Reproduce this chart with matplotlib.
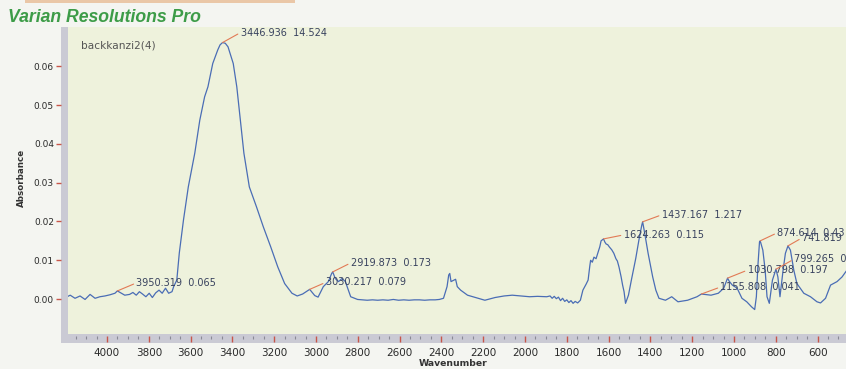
import numpy as np
import matplotlib
matplotlib.use("Agg")
import matplotlib.pyplot as plt
from matplotlib.patches import Rectangle
from matplotlib.ticker import MultipleLocator, FormatStrFormatter

# IR absorbance spectrum of sample backkanzi2(4)
wavenumber = [
    4191, 4176, 4153, 4129, 4105, 4081, 4057, 4034, 4010, 3986, 3962, 3950.319,
    3931, 3915, 3892, 3876, 3860, 3845, 3830, 3814, 3798, 3783, 3767, 3751,
    3736, 3720, 3705, 3689, 3681, 3666, 3654, 3634, 3611, 3580, 3556, 3533,
    3517, 3494, 3470, 3459, 3446.936, 3434, 3421, 3396, 3379, 3362, 3345, 3319,
    3285, 3252, 3217, 3183, 3150, 3115, 3090, 3064, 3030.217, 3006, 2990, 2965,
    2941, 2925, 2919.873, 2908, 2892, 2876, 2859, 2851, 2834, 2801, 2780, 2755,
    2730, 2705, 2680, 2655, 2630, 2605, 2580, 2555, 2530, 2505, 2480, 2455,
    2430, 2410, 2390, 2373, 2365, 2360, 2354, 2340, 2332, 2324, 2308, 2275,
    2225, 2192, 2143, 2100, 2061, 2020, 1978, 1940, 1896, 1880, 1870, 1860,
    1850, 1840, 1830, 1820, 1810, 1800, 1790, 1780, 1770, 1760, 1748, 1735,
    1723, 1707, 1698, 1690, 1686, 1678, 1670, 1660, 1652, 1642, 1636, 1624.263,
    1618, 1612, 1604, 1596, 1585, 1575, 1565, 1558, 1550, 1545, 1540, 1533,
    1526, 1519, 1505, 1491, 1470, 1455, 1441, 1437.167, 1427, 1411, 1389, 1374,
    1359, 1328, 1298, 1268, 1222, 1177, 1155.808, 1110, 1075, 1049, 1030.798, 1023,
    1008, 985, 962, 939, 916, 901, 893, 886, 878, 874.614, 862, 851,
    842, 831, 816, 799.265, 790, 780, 765, 754, 741.819, 730, 714, 699,
    666, 634, 603, 586, 562, 538, 507, 483, 459, 446,
]
absorbance = [
    0.0006, 0.0010, 0.0002, 0.0008, -0.0001, 0.0012, 0.0002, 0.0006, 0.0008, 0.0011, 0.0015, 0.0021,
    0.0015, 0.0010, 0.0012, 0.0017, 0.0010, 0.0019, 0.0013, 0.0006, 0.0015, 0.0004, 0.0016, 0.0023,
    0.0015, 0.0028, 0.0015, 0.0019, 0.0032, 0.0049, 0.0119, 0.0204, 0.0289, 0.0376, 0.0461, 0.0521,
    0.0547, 0.0607, 0.0642, 0.0655, 0.0661, 0.0659, 0.0650, 0.0607, 0.0547, 0.0461, 0.0376, 0.0289,
    0.0238, 0.0186, 0.0135, 0.0083, 0.0040, 0.0015, 0.0008, 0.0013, 0.0025, 0.0009, 0.0005, 0.0032,
    0.0045, 0.0066, 0.0070, 0.0053, 0.0045, 0.0053, 0.0045, 0.0032, 0.0006, -0.0001, -0.0002, -0.0003,
    -0.0002, -0.0003, -0.0002, -0.0003, -0.0001, -0.0003, -0.0002, -0.0003, -0.0002, -0.0002, -0.0003, -0.0002,
    -0.0002, -0.0001, 0.0002, 0.0032, 0.0062, 0.0066, 0.0045, 0.0049, 0.0051, 0.0032, 0.0023, 0.0010,
    0.0002, -0.0003, 0.0004, 0.0008, 0.0010, 0.0008, 0.0006, 0.0007, 0.0006, 0.0008, 0.0002, 0.0007,
    0.0001, 0.0005, -0.0004, 0.0002, -0.0006, -0.0002, -0.0009, -0.0004, -0.0011, -0.0006, -0.0010, -0.0003,
    0.0023, 0.0039, 0.0049, 0.0085, 0.0100, 0.0095, 0.0108, 0.0104, 0.0118, 0.0135, 0.0150, 0.0155,
    0.0147, 0.0142, 0.0140, 0.0134, 0.0127, 0.0118, 0.0104, 0.0098, 0.0082, 0.0070, 0.0057, 0.0036,
    0.0019, -0.0011, 0.0010, 0.0049, 0.0105, 0.0152, 0.0191, 0.0199, 0.0169, 0.0118, 0.0057, 0.0023,
    0.0002, -0.0003, 0.0006, -0.0007, -0.0003, 0.0006, 0.0013, 0.0010, 0.0015, 0.0028, 0.0054, 0.0046,
    0.0036, 0.0028, 0.0002, -0.0007, -0.0020, -0.0027, 0.0006, 0.0083, 0.0147, 0.0150, 0.0126, 0.0075,
    0.0006, -0.0011, 0.0049, 0.0077, 0.0057, 0.0006, 0.0075, 0.0118, 0.0137, 0.0126, 0.0075, 0.0040,
    0.0015, 0.0006, -0.0007, -0.0010, 0.0002, 0.0036, 0.0045, 0.0057, 0.0075, 0.0068,
]

# picked peaks and the second column of their readouts
peak_wavenumber = [3950.319, 3446.936, 3030.217, 2919.873, 1624.263, 1437.167,
                   1155.808, 1030.798, 874.614, 799.265, 741.819]
peak_readout = ["0.065", "14.524", "0.079", "0.173", "0.115", "1.217",
                "0.041", "0.197", "0.43", "0.052", "0.389"]
# label placement relative to each peak, in pixels
peak_label_offset = [(19, 8), (18, 10), (16, 7), (18, 9), (20, 4), (19, 7),
                     (19, 7), (20, 8), (17, 8), (18, 10), (14, 8)]

x_ticks = list(range(4000, 599, -200))
y_ticks = [0.00, 0.01, 0.02, 0.03, 0.04, 0.05, 0.06]

W, H = 846, 369
fig = plt.figure(figsize=(W / 100, H / 100), dpi=100, facecolor="#f4f5f1")


def box(x0, y0, x1, y1):
    return [x0 / W, 1 - y1 / H, (x1 - x0) / W, (y1 - y0) / H]


ax = fig.add_axes(box(68, 27, 846, 334))
ax.set_facecolor("#eef2dc")

# grey frame bars along the left and bottom of the plot area (behind the ticks)
for (x0, y0, x1, y1) in [(61, 27, 68, 343), (61, 334, 846, 343)]:
    b = box(x0, y0, x1, y1)
    fig.patches.append(Rectangle((b[0], b[1]), b[2], b[3], transform=fig.transFigure,
                                 facecolor="#cacad4", edgecolor="none", zorder=-1))
# thin orange strip along the top edge
b = box(25, 0, 295, 3)
fig.patches.append(Rectangle((b[0], b[1]), b[2], b[3], transform=fig.transFigure,
                             facecolor="#e2a26a", edgecolor="none", alpha=0.55, zorder=-1))

ax.plot(wavenumber, absorbance, color="#4a6db5", lw=0.9, zorder=3)
ax.set_xlim(4186.6, 464.1)
ax.set_ylim(-0.0090, 0.0701)

for s in ax.spines.values():
    s.set_visible(False)
ax.spines["left"].set_position(("outward", 7 * 0.72))
ax.spines["bottom"].set_position(("outward", 2 * 0.72))

ax.set_xticks(x_ticks)
ax.xaxis.set_minor_locator(MultipleLocator(50))
ax.set_yticks(y_ticks)
ax.yaxis.set_major_formatter(FormatStrFormatter("%.2f"))
ax.tick_params(axis="x", which="major", direction="out", length=4.3, width=1,
               color="#c8564a", pad=4.5, labelsize=7.5, labelcolor="#2a2a2a")
ax.tick_params(axis="x", which="minor", direction="out", length=1.8, width=0.8,
               color="#8a8a95")
ax.tick_params(axis="y", which="major", direction="out", length=3.6, width=1,
               color="#c8564a", pad=1.5, labelsize=6.5, labelcolor="#2a2a2a")

# peak readouts with leader lines
wn_arr = np.array(wavenumber)[::-1]
ab_arr = np.array(absorbance)[::-1]
peak_abs = np.interp(peak_wavenumber, wn_arr, ab_arr)
for wn, val, (dx, dy), a in zip(peak_wavenumber, peak_readout, peak_label_offset, peak_abs):
    ax.annotate(f"{wn:.3f}  {val}", xy=(wn, a), xytext=(dx, dy),
                textcoords="offset pixels", ha="left", va="center",
                fontsize=7, color="#38425e", zorder=4, annotation_clip=False,
                arrowprops=dict(arrowstyle="-", color="#e27a55", lw=0.8,
                                shrinkA=0, shrinkB=0, relpos=(0, 0.5)))

fig.text(8 / W, 1 - 17 / H, "Varian Resolutions Pro", family="Liberation Sans",
         fontsize=12.7, fontweight="bold", fontstyle="italic", color="#3d9c48",
         ha="left", va="center")
fig.text(81 / W, 1 - 46 / H, "backkanzi2(4)", fontsize=7.6, color="#555555",
         ha="left", va="center")
fig.text(21 / W, 1 - 178 / H, "Absorbance", fontsize=6.3, fontweight="bold",
         color="#333333", rotation=90, ha="center", va="center")
fig.text(453 / W, 1 - 364 / H, "Wavenumber", fontsize=6.7, fontweight="bold",
         color="#333333", ha="center", va="center")

fig.savefig("out.png", dpi=100, facecolor=fig.get_facecolor())
